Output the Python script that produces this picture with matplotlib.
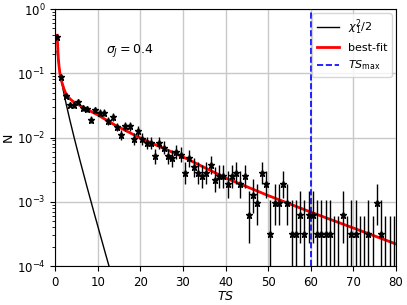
import numpy as np
import matplotlib
matplotlib.use("Agg")
import matplotlib.pyplot as plt

# ---------------- data ----------------
ts_centers = np.arange(80) + 0.5          # bin centres, bin width 1
counts = np.array([
    1157, 278, 142, 103, 101, 114, 92, 88, 60, 84,
    77, 77, 57, 66, 46, 35, 47, 47, 30, 40,
    30, 26, 26, 16, 26, 22, 16, 15, 19, 17,
    9, 15, 11, 9, 8, 9, 12, 7, 8, 8,
    6, 8, 9, 6, 8, 2, 4, 3, 9, 6,
    1, 3, 3, 6, 3, 1, 1, 2, 1, 2,
    2, 1, 1, 1, 1, 0, 0, 2, 0, 1,
    1, 0, 0, 1, 0, 3, 1, 0, 0, 0])
n_total = 3160

fit_ts = [0.5, 0.6, 0.7, 0.8, 0.95, 1.1, 1.3, 1.55, 1.8, 2.1, 2.5, 3.0, 3.5,
          4.2, 5.0, 6.0, 7.0, 10.0, 14.0, 20.0, 30.0, 40.0, 50.0, 60.0, 70.0, 80.0]
fit_n = [0.39, 0.29, 0.21, 0.165, 0.128, 0.105, 0.089, 0.075, 0.066, 0.057,
         0.049, 0.044, 0.040, 0.0365, 0.034, 0.031, 0.0285, 0.0225, 0.0157,
         0.0098, 0.0050, 0.00235, 0.00125, 0.00069, 0.00039, 0.00022]

ts_max = 60
sigma_j = 0.4

# ---------------- derived ----------------
c = counts.astype(float)
N = c / n_total
safe = np.where(c > 0, c, 1.0)
lower_bound = np.where(c > 0, safe * (1 - 1 / (9 * safe) - 1 / (3 * np.sqrt(safe))) ** 3, 0.0)
err_lo = (c - lower_bound) / n_total
err_hi = (np.sqrt(c + 0.75) + 1) / n_total

ts_grid = np.linspace(0.5, 80, 600)
chi2_half = 0.5 * np.exp(-ts_grid / 2) / np.sqrt(2 * np.pi * ts_grid)

# ---------------- plot ----------------
fig = plt.figure(figsize=(4.07, 3.05), dpi=100)
ax = fig.add_axes([55 / 407, 1 - 266 / 305, 341 / 407, 257 / 305])

ax.grid(True, which="major", color="#c8c8c8", lw=1.0)
ax.set_axisbelow(True)

ax.plot(ts_grid, chi2_half, color="k", lw=1.0, label=r"$\chi^2_1/2$", zorder=2)
ax.plot(fit_ts, fit_n, color="red", lw=2.0, label="best-fit", zorder=2.5)
ax.axvline(ts_max, color="blue", ls="--", lw=1.2, label=r"$TS_{\rm max}$", zorder=2.6)

ax.errorbar(ts_centers, N, yerr=[err_lo, err_hi], fmt="*", color="k",
            ecolor="k", elinewidth=1.0, ms=5, zorder=3)

ax.set_yscale("log")
ax.set_xlim(0, 80)
ax.set_ylim(1e-4, 1)
ax.set_xticks(np.arange(0, 81, 10))

ax.tick_params(labelsize=8.5)
ax.set_xlabel(r"$TS$", fontsize=9, labelpad=1)
ax.set_ylabel("N", fontsize=9, labelpad=1)

ax.text(0.15, 0.84, r"$\sigma_J = %.1f$" % sigma_j, transform=ax.transAxes,
        fontsize=9, ha="left", va="center")

ax.legend(loc="upper right", fontsize=8, borderaxespad=0.4)

fig.savefig("out.png", dpi=100)
